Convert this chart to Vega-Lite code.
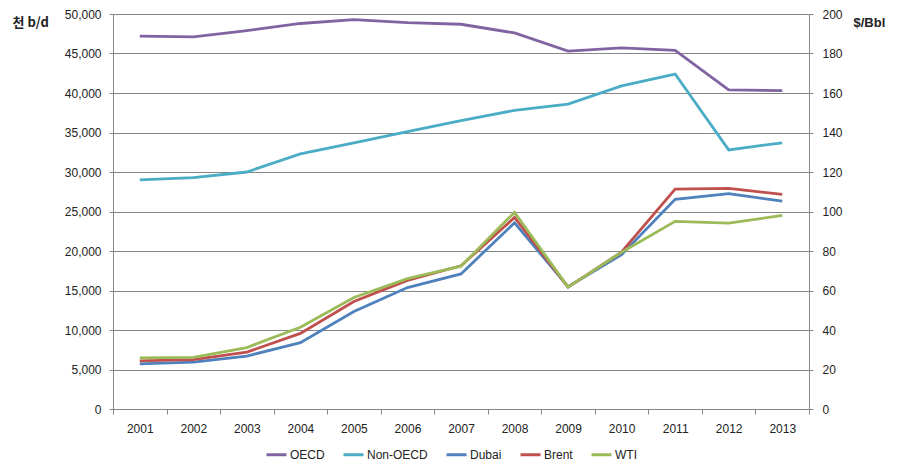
{
  "$schema": "https://vega.github.io/schema/vega-lite/v6.json",
  "width": 696,
  "height": 395,
  "autosize": {"type": "none"},
  "padding": {"left": 113, "top": 14, "right": 91, "bottom": 66},
  "background": "white",
  "config": {
    "view": {"stroke": null},
    "font": "Liberation Sans",
    "axis": {"labelFont": "Liberation Sans", "labelFontSize": 12, "labelColor": "#222", "domainColor": "#868686", "tickColor": "#868686", "gridColor": "#868686"}
  },
  "datasets": {
    "volume": [
      {"year": "2001", "series": "OECD", "value": 47200},
      {"year": "2002", "series": "OECD", "value": 47100},
      {"year": "2003", "series": "OECD", "value": 47900},
      {"year": "2004", "series": "OECD", "value": 48800},
      {"year": "2005", "series": "OECD", "value": 49300},
      {"year": "2006", "series": "OECD", "value": 48900},
      {"year": "2007", "series": "OECD", "value": 48700},
      {"year": "2008", "series": "OECD", "value": 47600},
      {"year": "2009", "series": "OECD", "value": 45300},
      {"year": "2010", "series": "OECD", "value": 45700},
      {"year": "2011", "series": "OECD", "value": 45400},
      {"year": "2012", "series": "OECD", "value": 40400},
      {"year": "2013", "series": "OECD", "value": 40300},
      {"year": "2001", "series": "Non-OECD", "value": 29000},
      {"year": "2002", "series": "Non-OECD", "value": 29300},
      {"year": "2003", "series": "Non-OECD", "value": 30000},
      {"year": "2004", "series": "Non-OECD", "value": 32300},
      {"year": "2005", "series": "Non-OECD", "value": 33700},
      {"year": "2006", "series": "Non-OECD", "value": 35100},
      {"year": "2007", "series": "Non-OECD", "value": 36500},
      {"year": "2008", "series": "Non-OECD", "value": 37800},
      {"year": "2009", "series": "Non-OECD", "value": 38600},
      {"year": "2010", "series": "Non-OECD", "value": 40900},
      {"year": "2011", "series": "Non-OECD", "value": 42400},
      {"year": "2012", "series": "Non-OECD", "value": 32800},
      {"year": "2013", "series": "Non-OECD", "value": 33700}
    ],
    "price": [
      {"year": "2001", "series": "Dubai", "value": 22.8},
      {"year": "2002", "series": "Dubai", "value": 23.7},
      {"year": "2003", "series": "Dubai", "value": 26.8},
      {"year": "2004", "series": "Dubai", "value": 33.6},
      {"year": "2005", "series": "Dubai", "value": 49.4},
      {"year": "2006", "series": "Dubai", "value": 61.5},
      {"year": "2007", "series": "Dubai", "value": 68.4},
      {"year": "2008", "series": "Dubai", "value": 94.3},
      {"year": "2009", "series": "Dubai", "value": 61.9},
      {"year": "2010", "series": "Dubai", "value": 78.1},
      {"year": "2011", "series": "Dubai", "value": 106.2},
      {"year": "2012", "series": "Dubai", "value": 109.0},
      {"year": "2013", "series": "Dubai", "value": 105.2},
      {"year": "2001", "series": "Brent", "value": 24.4},
      {"year": "2002", "series": "Brent", "value": 25.0},
      {"year": "2003", "series": "Brent", "value": 28.8},
      {"year": "2004", "series": "Brent", "value": 38.3},
      {"year": "2005", "series": "Brent", "value": 54.4},
      {"year": "2006", "series": "Brent", "value": 65.1},
      {"year": "2007", "series": "Brent", "value": 72.5},
      {"year": "2008", "series": "Brent", "value": 97.0},
      {"year": "2009", "series": "Brent", "value": 61.7},
      {"year": "2010", "series": "Brent", "value": 79.5},
      {"year": "2011", "series": "Brent", "value": 111.3},
      {"year": "2012", "series": "Brent", "value": 111.7},
      {"year": "2013", "series": "Brent", "value": 108.7},
      {"year": "2001", "series": "WTI", "value": 25.9},
      {"year": "2002", "series": "WTI", "value": 26.1},
      {"year": "2003", "series": "WTI", "value": 31.1},
      {"year": "2004", "series": "WTI", "value": 41.4},
      {"year": "2005", "series": "WTI", "value": 56.5},
      {"year": "2006", "series": "WTI", "value": 66.0},
      {"year": "2007", "series": "WTI", "value": 72.3},
      {"year": "2008", "series": "WTI", "value": 99.6},
      {"year": "2009", "series": "WTI", "value": 61.7},
      {"year": "2010", "series": "WTI", "value": 79.4},
      {"year": "2011", "series": "WTI", "value": 95.0},
      {"year": "2012", "series": "WTI", "value": 94.1},
      {"year": "2013", "series": "WTI", "value": 98.0}
    ]
  },
  "encoding": {
    "x": {
      "field": "year", "type": "ordinal", "title": null,
      "scale": {"paddingInner": 0, "paddingOuter": 0},
      "axis": {"labelAngle": 0, "tickBand": "extent", "tickSize": 5, "labelPadding": 9, "domainColor": "#868686", "grid": false}
    },
    "color": {
      "field": "series", "type": "nominal",
      "scale": {"domain": ["OECD", "Non-OECD", "Dubai", "Brent", "WTI"], "range": ["#8064A2", "#4BACC6", "#4F81BD", "#C0504D", "#9BBB59"]},
      "legend": {"orient": "none", "legendX": 152, "legendY": 429, "direction": "horizontal", "title": null, "symbolType": "stroke", "symbolStrokeWidth": 3, "symbolSize": 400, "labelFontSize": 12, "labelFont": "Liberation Sans", "labelColor": "#222", "columnPadding": 12, "labelOffset": 2}
    }
  },
  "layer": [
    {
      "data": {"name": "volume"},
      "mark": {"type": "line", "strokeWidth": 2.8},
      "encoding": {
        "y": {
          "field": "value", "type": "quantitative",
          "scale": {"domain": [0, 50000], "nice": false},
          "axis": {"values": [0, 5000, 10000, 15000, 20000, 25000, 30000, 35000, 40000, 45000, 50000], "format": ",.0f", "grid": true, "tickSize": 4, "labelPadding": 8, "title": "천 b/d", "titleAngle": 0, "titleAlign": "left", "titleBaseline": "middle", "titleX": -101, "titleY": 8, "titleFont": "Noto Sans CJK KR", "titleFontSize": 13, "titleFontWeight": "bold", "titleColor": "#222"}
        }
      }
    },
    {
      "data": {"name": "price"},
      "mark": {"type": "line", "strokeWidth": 2.8},
      "encoding": {
        "y": {
          "field": "value", "type": "quantitative",
          "scale": {"domain": [0, 200], "nice": false},
          "axis": {"orient": "right", "values": [0, 20, 40, 60, 80, 100, 120, 140, 160, 180, 200], "grid": false, "tickSize": 4, "labelPadding": 9, "title": "$/Bbl", "titleAngle": 0, "titleAlign": "left", "titleBaseline": "middle", "titleX": 44, "titleY": 8, "titleFont": "Liberation Sans", "titleFontSize": 13, "titleFontWeight": "bold", "titleColor": "#222"}
        }
      }
    }
  ],
  "resolve": {"scale": {"y": "independent"}}
}
